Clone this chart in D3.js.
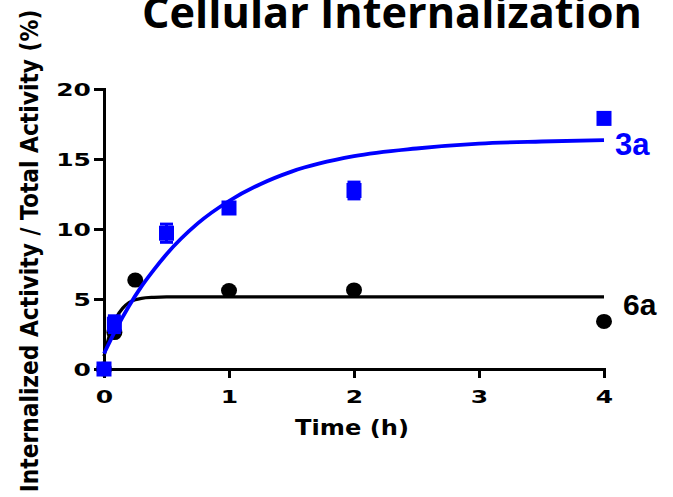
<!DOCTYPE html>
<html>
<head>
<meta charset="utf-8">
<script src="https://cdn.jsdelivr.net/npm/d3@7/dist/d3.min.js"></script>
<style>
  html, body { margin: 0; padding: 0; background: #fff; }
  svg { display: block; }
</style>
</head>
<body>
<svg id="chart" width="673" height="497"></svg>
<script>
// Time points (h) and measured internalized fraction (%)
const times3a = [0, 0.083, 0.5, 1, 2, 4];
const values3a = [0, 3.2, 9.7, 11.5, 12.75, 17.9];
const errors3a = [0, 0.6, 0.65, 0.3, 0.6, 0.2];

const times6a = [0, 0.083, 0.25, 1, 2, 4];
const values6a = [0, 2.6, 6.35, 5.6, 5.65, 3.4];

// Fitted association curves, sampled along time
const fitTimes3a = [0, 0.1, 0.2, 0.3, 0.4, 0.5, 0.75, 1, 1.25, 1.5, 2, 2.5, 3, 3.5, 4];
const fitValues3a = [1.1, 2.9, 4.5, 5.9, 7.1, 8.2, 10.4, 12.0, 13.2, 14.1, 15.2, 15.75, 16.1, 16.25, 16.35];
const fitTimes6a = [0, 0.05, 0.1, 0.15, 0.2, 0.25, 0.3, 0.4, 0.5, 4];
const fitValues6a = [0.9, 2.6, 3.7, 4.35, 4.75, 4.95, 5.05, 5.12, 5.15, 5.15];

const xTicks = [0, 1, 2, 3, 4];
const yTicks = [0, 5, 10, 15, 20];

const seriesNames = ["3a", "6a"];
const title = "Cellular Internalization";
const xTitle = "Time (h)";
const yTitle = "Internalized Activity / Total Activity (%)";

const svg = d3.select("#chart");
const blue = "#0000ff";
const black = "#000000";

const x = d3.scaleLinear().domain([0, 4]).range([104, 604]);
const y = d3.scaleLinear().domain([0, 20]).range([369, 89]);

const tickFont = "'DejaVu Sans', Verdana, sans-serif";

// Title (runs off the top edge)
const titleText = svg.append("text")
  .attr("font-family", "'Open Sans', sans-serif")
  .attr("font-weight", 700)
  .attr("font-size", 43)
  .attr("fill", black)
  .text(title);
const tw = titleText.node().getComputedTextLength();
titleText.attr("transform", `translate(142,28) scale(${500 / tw},1)`);

// Axes
const xAxis = svg.append("g")
  .attr("transform", `translate(0,${y(0)})`)
  .call(d3.axisBottom(x).tickValues(xTicks).tickSize(9).tickSizeOuter(0).tickFormat(d3.format("d")));
const yAxis = svg.append("g")
  .attr("transform", `translate(${x(0)},0)`)
  .call(d3.axisLeft(y).tickValues(yTicks).tickSize(10).tickSizeOuter(0).tickFormat(d3.format("d")));

[xAxis, yAxis].forEach(g => {
  g.select(".domain").attr("stroke", black).attr("stroke-width", 3).attr("stroke-linecap", "square");
  g.selectAll(".tick line").attr("stroke", black).attr("stroke-width", 3);
  g.selectAll(".tick text")
    .attr("fill", black)
    .attr("font-family", tickFont)
    .attr("font-weight", 700)
    .attr("font-size", 18.5);
});
xAxis.selectAll(".tick text")
  .attr("y", 0).attr("dy", null)
  .attr("transform", "translate(0,34) scale(1.35,1)");
yAxis.selectAll(".tick text")
  .attr("x", 0).attr("dy", "0.36em")
  .attr("transform", "translate(-13,0) scale(1.35,1)");

// Axis titles
svg.append("text")
  .attr("transform", "translate(352,435) scale(1.15,1)")
  .attr("text-anchor", "middle")
  .attr("font-family", tickFont)
  .attr("font-weight", 700)
  .attr("font-size", 21)
  .attr("fill", black)
  .text(xTitle);

svg.append("text")
  .attr("transform", "translate(38,251) scale(1.12,1) rotate(-90)")
  .attr("text-anchor", "middle")
  .attr("font-family", tickFont)
  .attr("font-weight", 700)
  .attr("font-size", 21.8)
  .attr("fill", black)
  .text(yTitle);

const line = d3.line().x(d => x(d[0])).y(d => y(d[1])).curve(d3.curveMonotoneX);

// 6a: fit line and points
svg.append("path")
  .datum(d3.zip(fitTimes6a, fitValues6a))
  .attr("d", line)
  .attr("fill", "none")
  .attr("stroke", black)
  .attr("stroke-width", 3.2);

svg.append("g").selectAll("ellipse")
  .data(d3.zip(times6a, values6a))
  .join("ellipse")
  .attr("cx", d => x(d[0]))
  .attr("cy", d => y(d[1]))
  .attr("rx", 8)
  .attr("ry", 7.5)
  .attr("fill", black);

// 3a: fit curve, error bars and points
svg.append("path")
  .datum(d3.zip(fitTimes3a, fitValues3a))
  .attr("d", line)
  .attr("fill", "none")
  .attr("stroke", blue)
  .attr("stroke-width", 3.8);

const pts3a = times3a.map((t, i) => ({ t, v: values3a[i], e: errors3a[i] }));
const eb = svg.append("g").attr("stroke", blue).attr("stroke-width", 3);
pts3a.filter(d => d.e > 0).forEach(d => {
  eb.append("line").attr("x1", x(d.t)).attr("x2", x(d.t)).attr("y1", y(d.v - d.e)).attr("y2", y(d.v + d.e));
  [d.v - d.e, d.v + d.e].forEach(v => {
    eb.append("line").attr("x1", x(d.t) - 6.5).attr("x2", x(d.t) + 6.5).attr("y1", y(v)).attr("y2", y(v));
  });
});

const sq = 15;
svg.append("g").selectAll("rect")
  .data(pts3a)
  .join("rect")
  .attr("x", d => x(d.t) - sq / 2)
  .attr("y", d => y(d.v) - sq / 2)
  .attr("width", sq)
  .attr("height", sq)
  .attr("fill", blue);

// Series labels
svg.append("text")
  .attr("x", 615).attr("y", 155)
  .attr("font-family", "'Liberation Sans', Arial, sans-serif")
  .attr("font-weight", 700)
  .attr("font-size", 31)
  .attr("fill", blue)
  .text(seriesNames[0]);
svg.append("text")
  .attr("x", 623).attr("y", 315)
  .attr("font-family", "'Liberation Sans', Arial, sans-serif")
  .attr("font-weight", 700)
  .attr("font-size", 30)
  .attr("fill", black)
  .text(seriesNames[1]);
</script>
</body>
</html>
